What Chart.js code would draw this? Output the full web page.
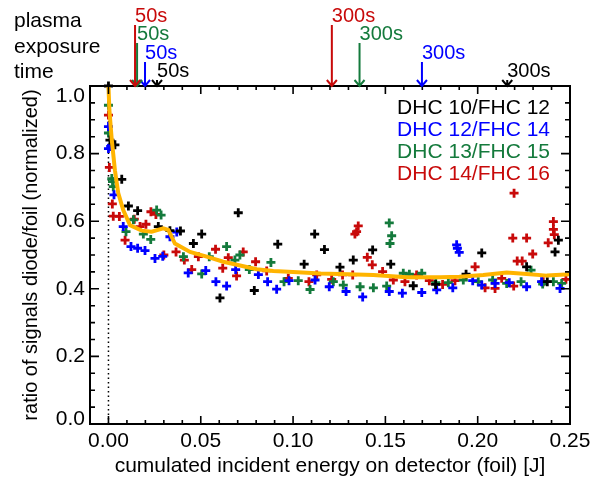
<!DOCTYPE html>
<html>
<head>
<meta charset="utf-8">
<script src="https://cdn.jsdelivr.net/npm/chart.js@4.4.1/dist/chart.umd.min.js"></script>
<style>
  html, body { margin: 0; padding: 0; background: #fff; }
</style>
</head>
<body>
<canvas id="chart" width="600" height="483"></canvas>
<script>
  // axis ticks
  const xTicks = [0, 0.05, 0.10, 0.15, 0.20, 0.25];
  const xTickLabels = ['0.00', '0.05', '0.10', '0.15', '0.20', '0.25'];
  const yTicks = [0, 0.2, 0.4, 0.6, 0.8, 1.0];
  const yTickLabels = ['0.0', '0.2', '0.4', '0.6', '0.8', '1.0'];

  const seriesLabels = ['DHC 10/FHC 12', 'DHC 12/FHC 14', 'DHC 13/FHC 15', 'DHC 14/FHC 16'];
  const seriesColors = ['#000000', '#0000ff', '#147a3c', '#c80a0a'];

  // plasma exposure time markers (energy at 50s and 300s) per series
  const exposureLabels = ['50s', '300s'];
  const exposure50 = [0.0263, 0.0198, 0.0155, 0.0144];
  const exposure300 = [0.216, 0.1698, 0.136, 0.121];

  // [energy, ratio]
  const dhc10 = [[0.0,1.0],[0.0008,0.84],[0.0035,0.826],[0.0072,0.724],[0.0108,0.645],[0.0158,0.631],[0.027,0.584],
    [0.0333,0.572],[0.039,0.571],[0.046,0.534],[0.0505,0.562],[0.0604,0.373],[0.0703,0.625],[0.079,0.395],[0.0917,0.532],
    [0.106,0.473],[0.1117,0.562],[0.117,0.516],[0.1254,0.464],[0.1326,0.485],[0.1431,0.515],[0.1529,0.473],[0.1651,0.409],
    [0.1772,0.413],[0.1937,0.443],[0.2022,0.506],[0.2265,0.465],[0.2377,0.421],[0.2419,0.509],[0.2437,0.544]];

  const dhc12 = [[0.0,0.88],[0.0,0.815],[0.0012,0.821],[0.003,0.678],[0.008,0.584],[0.0122,0.525],[0.0158,0.52],
    [0.0198,0.513],[0.0252,0.49],[0.0294,0.496],[0.0333,0.554],[0.037,0.568],[0.0432,0.447],[0.0527,0.454],[0.0582,0.421],
    [0.064,0.408],[0.0689,0.457],[0.0812,0.442],[0.0862,0.421],[0.0911,0.399],[0.0978,0.424],[0.1119,0.426],[0.1196,0.406],
    [0.1287,0.392],[0.1377,0.376],[0.1521,0.392],[0.1592,0.387],[0.1697,0.389],[0.1778,0.397],[0.1865,0.403],[0.1886,0.53],
    [0.189,0.52],[0.19,0.508],[0.1973,0.424],[0.2022,0.411],[0.2094,0.416],[0.2171,0.418],[0.2265,0.406],[0.2346,0.421],
    [0.2446,0.401]];

  const dhc13 = [[0.0,0.943],[0.0,0.861],[0.0018,0.726],[0.0022,0.717],[0.0026,0.702],[0.0095,0.569],[0.0135,0.604],
    [0.0189,0.562],[0.0229,0.546],[0.0261,0.633],[0.0285,0.618],[0.0406,0.495],[0.0505,0.444],[0.0546,0.495],[0.064,0.525],
    [0.0685,0.485],[0.0712,0.5],[0.0763,0.457],[0.088,0.478],[0.0951,0.421],[0.1028,0.424],[0.1092,0.398],[0.1218,0.421],
    [0.1272,0.411],[0.1363,0.406],[0.1435,0.403],[0.1507,0.408],[0.1521,0.595],[0.1525,0.534],[0.1534,0.557],[0.1597,0.446],
    [0.163,0.443],[0.1697,0.446],[0.1773,0.418],[0.1841,0.418],[0.1922,0.426],[0.2003,0.421],[0.2081,0.426],[0.2157,0.416],
    [0.2235,0.421],[0.2289,0.455],[0.2352,0.414],[0.241,0.421],[0.2455,0.416]];

  const dhc14 = [[0.0,0.914],[0.0005,0.759],[0.0021,0.651],[0.0026,0.615],[0.0059,0.614],[0.009,0.544],[0.014,0.606],
    [0.0171,0.584],[0.0203,0.591],[0.023,0.628],[0.0257,0.62],[0.03,0.5],[0.0366,0.509],[0.0411,0.485],[0.0451,0.457],
    [0.0487,0.495],[0.058,0.517],[0.0619,0.461],[0.0649,0.492],[0.0694,0.438],[0.073,0.509],[0.0797,0.48],[0.0857,0.453],
    [0.0974,0.431],[0.1086,0.421],[0.1128,0.441],[0.1209,0.428],[0.1268,0.441],[0.1323,0.441],[0.1335,0.562],[0.1344,0.569],
    [0.1353,0.586],[0.1402,0.493],[0.1429,0.471],[0.1485,0.451],[0.1543,0.426],[0.1606,0.421],[0.1669,0.441],[0.1738,0.424],
    [0.181,0.413],[0.1877,0.424],[0.1986,0.465],[0.204,0.403],[0.2094,0.401],[0.213,0.431],[0.219,0.55],[0.2197,0.683],
    [0.2195,0.408],[0.2214,0.482],[0.2241,0.482],[0.2265,0.55],[0.2298,0.503],[0.2355,0.421],[0.2382,0.536],[0.241,0.599],
    [0.241,0.576],[0.2415,0.56],[0.2478,0.428]];

  // smoothed mean
  const meanX = [0.0,0.0005,0.0018,0.0035,0.0053,0.008,0.0117,0.018,0.0234,0.0297,0.0324,0.036,0.0442,0.0532,0.0622,
    0.0713,0.0803,0.0893,0.1,0.115,0.13,0.1435,0.1616,0.18,0.19,0.203,0.2157,0.2265,0.2374,0.25];
  const meanY = [1.0,0.929,0.84,0.751,0.683,0.633,0.588,0.572,0.569,0.579,0.574,0.534,0.509,0.495,0.48,
    0.469,0.458,0.453,0.45,0.445,0.443,0.441,0.434,0.434,0.436,0.441,0.448,0.444,0.439,0.443];

  const FONT = "'Liberation Sans', Arial, sans-serif";
  Chart.defaults.font.family = FONT;
  Chart.defaults.color = '#000';

  const pts = arr => arr.map(p => ({ x: p[0], y: p[1] }));
  const allSeries = [dhc10, dhc12, dhc13, dhc14];

  const scatterSets = allSeries.map((s, i) => ({
    type: 'scatter',
    label: seriesLabels[i],
    data: pts(s),
    pointStyle: 'cross',
    pointRadius: 4.5,
    pointBorderWidth: 2.8,
    borderColor: seriesColors[i],
    backgroundColor: seriesColors[i],
    clip: false,
    order: 2 + i
  }));

  // frame with inward ticks on all four sides
  const framePlugin = {
    id: 'frame',
    afterDatasetsDraw(chart) {
      const { ctx, chartArea: a, scales: { x, y } } = chart;
      ctx.save();
      ctx.strokeStyle = '#000';
      ctx.lineWidth = 1.6;
      ctx.beginPath();
      for (let i = -1; i <= 25; i++) {
        const px = x.getPixelForValue(i / 100);
        const len = i % 5 === 0 ? 8 : 4;
        ctx.moveTo(px, a.bottom); ctx.lineTo(px, a.bottom - len);
        ctx.moveTo(px, a.top); ctx.lineTo(px, a.top + len);
      }
      for (let j = 0; j <= 20; j++) {
        const py = y.getPixelForValue(j / 20);
        const len = j % 4 === 0 ? 9 : 5;
        ctx.moveTo(a.left, py); ctx.lineTo(a.left + len, py);
        ctx.moveTo(a.right, py); ctx.lineTo(a.right - len, py);
      }
      ctx.stroke();
      ctx.lineWidth = 2;
      ctx.strokeRect(a.left, a.top, a.right - a.left, a.bottom - a.top);
      ctx.restore();
    }
  };

  // exposure arrows, left caption and series legend
  const notesPlugin = {
    id: 'notes',
    afterDraw(chart) {
      const { ctx, chartArea: a, scales: { x } } = chart;
      const baselines = [77, 59, 40, 22];
      ctx.save();
      ctx.font = '21px ' + FONT;
      ctx.textAlign = 'left';
      ctx.textBaseline = 'alphabetic';
      ctx.fillStyle = '#000';
      ['plasma', 'exposure', 'time'].forEach((t, k) => ctx.fillText(t, 14, 27 + k * 25.5));

      [exposure50, exposure300].forEach((xs, t) => {
        xs.forEach((v, i) => {
          const px = x.getPixelForValue(v);
          const base = baselines[i];
          ctx.strokeStyle = seriesColors[i];
          ctx.fillStyle = seriesColors[i];
          ctx.lineWidth = 2;
          ctx.beginPath();
          ctx.moveTo(px, base + 3);
          ctx.lineTo(px, a.top);
          ctx.moveTo(px - 5, a.top - 6);
          ctx.lineTo(px, a.top);
          ctx.lineTo(px + 5, a.top - 6);
          ctx.stroke();
          ctx.font = '20px ' + FONT;
          ctx.fillText(exposureLabels[t], px, base);
        });
      });

      ctx.font = '21px ' + FONT;
      ctx.textAlign = 'right';
      seriesLabels.forEach((lab, i) => {
        ctx.fillStyle = seriesColors[i];
        ctx.fillText(lab, 550, 114 + i * 22);
      });
      ctx.restore();
    }
  };

  new Chart(document.getElementById('chart'), {
    type: 'scatter',
    data: {
      datasets: [
        {
          type: 'line',
          label: 'mean',
          data: meanX.map((v, i) => ({ x: v, y: meanY[i] })),
          borderColor: '#ffb400',
          borderWidth: 4,
          pointRadius: 0,
          tension: 0,
          order: 0
        },
        ...scatterSets,
        {
          type: 'line',
          label: 'zero',
          data: [{ x: 0, y: 0 }, { x: 0, y: 1 }],
          borderColor: '#000',
          borderWidth: 1.5,
          borderDash: [1.5, 3],
          pointRadius: 0,
          order: 10
        }
      ]
    },
    options: {
      responsive: false,
      animation: false,
      layout: { padding: { top: 86, right: 30, left: 0, bottom: 0 } },
      plugins: { legend: { display: false }, tooltip: { enabled: false } },
      scales: {
        x: {
          type: 'linear',
          min: -0.01,
          max: 0.25,
          afterBuildTicks: s => { s.ticks = xTicks.map(v => ({ value: v })); },
          afterFit: s => { s.height = 59; },
          grid: { display: false, drawTicks: false },
          border: { display: false },
          ticks: {
            padding: 5,
            font: { size: 21 },
            maxRotation: 0,
            callback: (v, i) => xTickLabels[i]
          },
          title: {
            display: true,
            text: 'cumulated incident energy on detector (foil) [J]',
            font: { size: 21 },
            padding: { top: 0, bottom: 4 }
          }
        },
        y: {
          min: 0,
          max: 1.0,
          afterBuildTicks: s => { s.ticks = yTicks.map(v => ({ value: v })); },
          afterFit: s => { s.width = 90; },
          grid: { display: false, drawTicks: false },
          border: { display: false },
          ticks: {
            padding: 5,
            font: c => ({ size: 21, lineHeight: c.index === 0 ? 0.45 : 1.0 }),
            callback: (v, i) => {
              if (i === yTicks.length - 1) return ['', yTickLabels[i]];
              if (i === 0) return [yTickLabels[i], ''];
              return yTickLabels[i];
            }
          },
          title: {
            display: true,
            text: 'ratio of signals diode/foil (normalized)',
            font: { size: 20 },
            padding: { top: 19, bottom: 0 }
          }
        }
      }
    },
    plugins: [framePlugin, notesPlugin]
  });
</script>
</body>
</html>
